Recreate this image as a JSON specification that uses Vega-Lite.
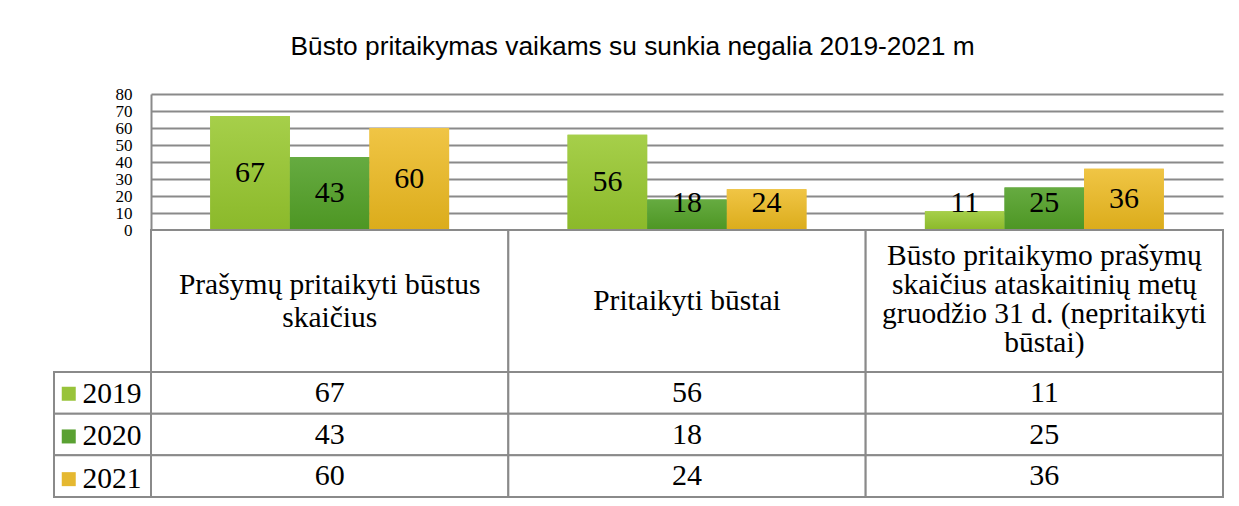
{
  "$schema": "https://vega.github.io/schema/vega-lite/v6.json",
  "autosize": {"type": "pad"},
  "padding": {"left": 53, "top": 33, "right": 17, "bottom": 6},
  "background": "white",
  "title": {
    "text": "Būsto pritaikymas vaikams su sunkia negalia 2019-2021 m",
    "font": "Liberation Sans",
    "fontSize": 26.3,
    "fontWeight": "normal",
    "color": "black",
    "anchor": "middle",
    "dx": -6,
    "offset": 25
  },
  "datasets": {
    "d": [
      {"cat": "Prašymų pritaikyti būstus\nskaičius", "year": "2019", "value": 67},
      {"cat": "Prašymų pritaikyti būstus\nskaičius", "year": "2020", "value": 43},
      {"cat": "Prašymų pritaikyti būstus\nskaičius", "year": "2021", "value": 60},
      {"cat": "Pritaikyti būstai", "year": "2019", "value": 56},
      {"cat": "Pritaikyti būstai", "year": "2020", "value": 18},
      {"cat": "Pritaikyti būstai", "year": "2021", "value": 24},
      {"cat": "Būsto pritaikymo prašymų\nskaičius ataskaitinių metų\ngruodžio 31 d. (nepritaikyti\nbūstai)", "year": "2019", "value": 11},
      {"cat": "Būsto pritaikymo prašymų\nskaičius ataskaitinių metų\ngruodžio 31 d. (nepritaikyti\nbūstai)", "year": "2020", "value": 25},
      {"cat": "Būsto pritaikymo prašymų\nskaičius ataskaitinių metų\ngruodžio 31 d. (nepritaikyti\nbūstai)", "year": "2021", "value": 36}
    ]
  },
  "columns": 2,
  "spacing": 0,
  "bounds": "flush",
  "resolve": {"scale": {"x": "independent", "y": "independent"}},
  "concat": [
    {
      "width": 97,
      "height": 136,
      "data": {"values": [{"blank": ""}]},
      "mark": {"type": "text", "opacity": 0},
      "encoding": {"text": {"field": "blank"}}
    },
    {
      "width": 1072,
      "height": 136,
      "data": {"name": "d"},
      "encoding": {
        "x": {"field": "cat", "type": "nominal", "sort": null, "scale": {"paddingInner": 0, "paddingOuter": 0}, "axis": null},
        "xOffset": {"field": "year", "type": "nominal", "sort": ["2019", "2020", "2021"], "scale": {"paddingInner": 0, "paddingOuter": 0.744}},
        "y": {
          "field": "value", "type": "quantitative",
          "scale": {"domain": [0, 80], "nice": false},
          "axis": {
            "title": null, "values": [0, 10, 20, 30, 40, 50, 60, 70, 80], "labelOverlap": false,
            "grid": true, "gridColor": "#8a8a8a", "gridWidth": 2,
            "domain": true, "domainColor": "#8a8a8a", "domainWidth": 2,
            "ticks": false, "labelPadding": 19,
            "labelFont": "Liberation Serif", "labelFontSize": 17, "labelColor": "black"
          }
        }
      },
      "layer": [
        {
          "mark": {"type": "bar"},
          "encoding": {
            "color": {
              "field": "year", "type": "nominal",
              "scale": {"domain": ["2019", "2020", "2021"], "range": ["#98c33a", "#5aa132", "#e5b830"]},
              "legend": {
                "orient": "none", "legendX": 0, "legendY": 285, "title": null,
                "symbolType": "square", "symbolSize": 196, "symbolStrokeWidth": 0,
                "labelFont": "Liberation Serif", "labelFontSize": 29.5, "labelColor": "black",
                "labelOffset": -1, "rowPadding": 11.7
              }
            }
          }
        },
        {
          "transform": [{"filter": "datum.year == '2019'"}],
          "mark": {"type": "bar", "fill": {"gradient": "linear", "x1": 0, "y1": 0, "x2": 0, "y2": 1, "stops": [{"offset": 0, "color": "#a6cf4a"}, {"offset": 1, "color": "#8bb92a"}]}}
        },
        {
          "transform": [{"filter": "datum.year == '2020'"}],
          "mark": {"type": "bar", "fill": {"gradient": "linear", "x1": 0, "y1": 0, "x2": 0, "y2": 1, "stops": [{"offset": 0, "color": "#66ab41"}, {"offset": 1, "color": "#4d9623"}]}}
        },
        {
          "transform": [{"filter": "datum.year == '2021'"}],
          "mark": {"type": "bar", "fill": {"gradient": "linear", "x1": 0, "y1": 0, "x2": 0, "y2": 1, "stops": [{"offset": 0, "color": "#f0c545"}, {"offset": 1, "color": "#dbac1b"}]}}
        },
        {
          "transform": [{"calculate": "max(datum.value / 2, 16)", "as": "labelPos"}],
          "mark": {"type": "text", "font": "Liberation Serif", "fontSize": 30, "color": "black", "baseline": "middle"},
          "encoding": {
            "y": {
              "field": "labelPos", "type": "quantitative",
              "axis": {
                "title": null, "values": [0, 10, 20, 30, 40, 50, 60, 70, 80], "labelOverlap": false,
                "grid": true, "gridColor": "#8a8a8a", "gridWidth": 2,
                "domain": true, "domainColor": "#8a8a8a", "domainWidth": 2,
                "ticks": false, "labelPadding": 19,
                "labelFont": "Liberation Serif", "labelFontSize": 17, "labelColor": "black"
              }
            },
            "text": {"field": "value", "type": "quantitative"}
          }
        }
      ]
    },
    {
      "width": 97,
      "height": 142,
      "data": {"values": [{"blank": ""}]},
      "mark": {"type": "text", "opacity": 0},
      "encoding": {"text": {"field": "blank"}}
    },
    {
      "width": 1072,
      "height": 142,
      "data": {"name": "d"},
      "transform": [{"filter": "datum.year == '2019'"}],
      "layer": [
        {
          "mark": {"type": "rect", "fill": "white", "stroke": "#8a8a8a", "strokeWidth": 2},
          "encoding": {
            "x": {"field": "cat", "type": "nominal", "sort": null, "scale": {"paddingInner": 0, "paddingOuter": 0}, "axis": null}
          }
        },
        {
          "transform": [{"filter": "datum.value == 67"}],
          "mark": {"type": "text", "font": "Liberation Serif", "fontSize": 29.5, "lineBreak": "\n", "lineHeight": 33, "baseline": "middle", "color": "black", "dy": -16.5},
          "encoding": {
            "x": {"field": "cat", "type": "nominal", "sort": null},
            "text": {"field": "cat", "type": "nominal"}
          }
        },
        {
          "transform": [{"filter": "datum.value == 56"}],
          "mark": {"type": "text", "font": "Liberation Serif", "fontSize": 29.5, "baseline": "middle", "color": "black"},
          "encoding": {
            "x": {"field": "cat", "type": "nominal", "sort": null},
            "text": {"field": "cat", "type": "nominal"}
          }
        },
        {
          "transform": [{"filter": "datum.value == 11"}],
          "mark": {"type": "text", "font": "Liberation Serif", "fontSize": 29.5, "lineBreak": "\n", "lineHeight": 29, "baseline": "middle", "color": "black", "dy": -45},
          "encoding": {
            "x": {"field": "cat", "type": "nominal", "sort": null},
            "text": {"field": "cat", "type": "nominal"}
          }
        }
      ]
    },
    {
      "width": 97,
      "height": 125,
      "data": {"name": "d"},
      "transform": [{"filter": "datum.value == 67 || datum.value == 43 || datum.value == 60"}],
      "mark": {"type": "rect", "fill": "white", "stroke": "#8a8a8a", "strokeWidth": 2},
      "encoding": {
        "y": {"field": "year", "type": "nominal", "sort": null, "scale": {"paddingInner": 0, "paddingOuter": 0}, "axis": null}
      }
    },
    {
      "width": 1072,
      "height": 125,
      "data": {"name": "d"},
      "layer": [
        {
          "mark": {"type": "rect", "fill": "white", "stroke": "#8a8a8a", "strokeWidth": 2},
          "encoding": {
            "x": {"field": "cat", "type": "nominal", "sort": null, "scale": {"paddingInner": 0, "paddingOuter": 0}, "axis": null},
            "y": {"field": "year", "type": "nominal", "sort": null, "scale": {"paddingInner": 0, "paddingOuter": 0}, "axis": null}
          }
        },
        {
          "mark": {"type": "text", "font": "Liberation Serif", "fontSize": 30, "baseline": "middle", "color": "black"},
          "encoding": {
            "x": {"field": "cat", "type": "nominal", "sort": null},
            "y": {"field": "year", "type": "nominal", "sort": null},
            "text": {"field": "value", "type": "quantitative"}
          }
        }
      ]
    }
  ],
  "config": {
    "font": "Liberation Serif",
    "view": {"stroke": null}
  }
}
